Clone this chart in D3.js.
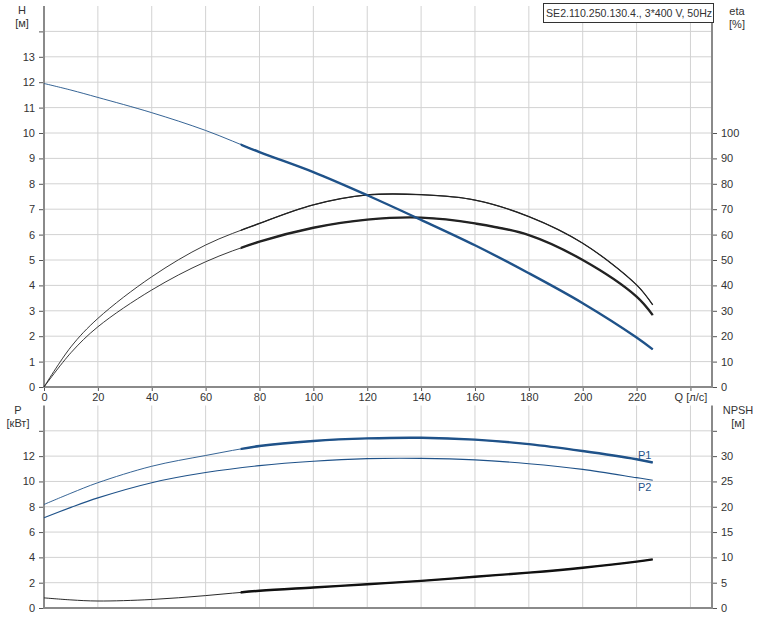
<!DOCTYPE html>
<html>
<head>
<meta charset="utf-8">
<script src="https://cdn.jsdelivr.net/npm/d3@7"></script>
<style>
body { margin: 0; background: #fff; }
text { font-family: "Liberation Sans", Arial, sans-serif; font-size: 11px; fill: #333; }
.grid line { stroke: #d2d2d2; stroke-width: 1; }
.frame { stroke: #8a8a8a; stroke-width: 2; fill: none; }
.tick line { stroke: #555; }
.domain { display: none; }
</style>
</head>
<body>
<div class="chart"></div>
<script>
const WIDTH = 761;
const HEIGHT = 624;
const LEFT = 44;
const RIGHT = 712;

const q        = [0, 10, 20, 40, 60, 80, 100, 120, 140, 160, 180, 200, 220, 226];
const head     = [11.95, 11.69, 11.4, 10.8, 10.1, 9.25, 8.46, 7.55, 6.58, 5.58, 4.48, 3.3, 1.95, 1.48];
const etaTotal = [0, 15.8, 27, 43.4, 55.9, 64.4, 71.7, 75.6, 75.7, 73.6, 67.1, 56.6, 40.2, 32.3];
const etaPump  = [0, 13.5, 23.7, 38.2, 49.3, 57.2, 62.7, 65.9, 66.7, 64.4, 59.8, 50, 35.6, 28.3];
const p1       = [8.18, 9.07, 9.9, 11.2, 12.05, 12.8, 13.2, 13.4, 13.45, 13.3, 12.95, 12.4, 11.75, 11.5];
const p2       = [7.13, 7.95, 8.7, 9.9, 10.7, 11.25, 11.6, 11.8, 11.82, 11.7, 11.4, 10.95, 10.3, 10.1];
const npsh     = [2.0, 1.6, 1.38, 1.68, 2.45, 3.4, 4.05, 4.7, 5.35, 6.18, 6.98, 7.95, 9.15, 9.6];
const dutyFrom = 73; // curves are drawn bold from this flow on

const qTicks = [0, 20, 40, 60, 80, 100, 120, 140, 160, 180, 200, 220, 240];
const hTicks = d3.range(0, 15);
const etaTicks = d3.range(0, 110, 10);
const pTicks = d3.range(0, 16, 2);
const npshTicks = d3.range(0, 40, 5);
const title = "SE2.110.250.130.4., 3*400 V, 50Hz";

const BLUE = "#1f5289";

var svg = d3.select('.chart').append('svg')
    .attr('width', WIDTH)
    .attr('height', HEIGHT);

var x = d3.scaleLinear().domain([0, 248]).range([LEFT, RIGHT]);
var yH = d3.scaleLinear().domain([0, 15]).range([387, 6]);
var yEta = d3.scaleLinear().domain([0, 150]).range([387, 6]);
var yP = d3.scaleLinear().domain([0, 16]).range([608, 405.5]);
var yN = d3.scaleLinear().domain([0, 40]).range([608, 405.5]);

var translate = function (a, b) {
    return "translate(" + a + "," + b + ")";
};

svg.append('clipPath').attr('id', 'duty')
    .append('rect')
    .attr('x', x(dutyFrom)).attr('y', 0)
    .attr('width', RIGHT - x(dutyFrom)).attr('height', HEIGHT);

var drawGrid = function (yScale, yValues, top, bottom) {
    var g = svg.append('g').attr('class', 'grid');
    g.selectAll('line.v').data(qTicks.slice(1)).enter().append('line')
        .attr('class', 'v')
        .attr('x1', x).attr('x2', x)
        .attr('y1', top).attr('y2', bottom);
    g.selectAll('line.h').data(yValues.slice(1)).enter().append('line')
        .attr('class', 'h')
        .attr('x1', LEFT).attr('x2', RIGHT)
        .attr('y1', yScale).attr('y2', yScale);
};

drawGrid(yH, hTicks, 6, 387);
drawGrid(yP, pTicks, 405.5, 608);

// axes
svg.append('g').attr('transform', translate(LEFT, 0))
    .call(d3.axisLeft(yH).tickValues(hTicks).tickSize(5).tickPadding(4)
        .tickFormat(d => d <= 13 ? d : ""));
svg.append('g').attr('transform', translate(RIGHT, 0))
    .call(d3.axisRight(yEta).tickValues(etaTicks).tickSize(5).tickPadding(4));
svg.append('g').attr('transform', translate(0, 387))
    .call(d3.axisBottom(x).tickValues(qTicks).tickSize(4).tickPadding(2)
        .tickFormat(d => d === 240 ? "Q [л/с]" : d));
svg.append('g').attr('transform', translate(LEFT, 0))
    .call(d3.axisLeft(yP).tickValues(pTicks).tickSize(5).tickPadding(4)
        .tickFormat(d => d <= 12 ? d : ""));
svg.append('g').attr('transform', translate(RIGHT, 0))
    .call(d3.axisRight(yN).tickValues(npshTicks).tickSize(5).tickPadding(4)
        .tickFormat(d => d <= 30 ? d : ""));

// frames
svg.append('path').attr('class', 'frame')
    .attr('d', "M" + LEFT + ",6V387H" + RIGHT + "V6");
svg.append('path').attr('class', 'frame')
    .attr('d', "M" + LEFT + ",405.5V608H" + RIGHT + "V405.5");

// curves: thin full curve, bold copy clipped to the duty range
var drawCurve = function (values, yScale, color, thin, thick) {
    var line = d3.line()
        .x((d, i) => x(q[i]))
        .y(d => yScale(d))
        .curve(d3.curveCatmullRom.alpha(0.5));
    svg.append('path')
        .attr('d', line(values))
        .attr('fill', 'none')
        .attr('stroke', color)
        .attr('stroke-width', thin);
    if (thick) {
        svg.append('path')
            .attr('d', line(values))
            .attr('clip-path', 'url(#duty)')
            .attr('fill', 'none')
            .attr('stroke', color)
            .attr('stroke-width', thick);
    }
};

drawCurve(etaTotal, yEta, "#222", 0.9, 1.3);
drawCurve(etaPump, yEta, "#222", 0.9, 2.4);
drawCurve(head, yH, BLUE, 0.9, 2.4);
drawCurve(p1, yP, BLUE, 0.9, 2.4);
drawCurve(p2, yP, BLUE, 1.1, null);
drawCurve(npsh, yN, "#111", 0.9, 2.4);

// curve labels
var qEnd = q[q.length - 1];
svg.append('text').attr('x', x(qEnd) - 8).attr('y', yP(p1[p1.length - 1]) - 3)
    .attr('text-anchor', 'middle').style('fill', BLUE).text("P1");
svg.append('text').attr('x', x(qEnd) - 8).attr('y', yP(p2[p2.length - 1]) + 11)
    .attr('text-anchor', 'middle').style('fill', BLUE).text("P2");

// axis titles
var label = function (tx, ty, lines) {
    lines.forEach(function (t, i) {
        svg.append('text').attr('x', tx).attr('y', ty + i * 13)
            .attr('text-anchor', 'middle').text(t);
    });
};
label(22, 14, ["H", "[м]"]);
label(737, 15, ["eta", "[%]"]);
label(18, 414, ["P", "[кВт]"]);
label(738, 414, ["NPSH", "[м]"]);

// title box
svg.append('rect').attr('x', 543.5).attr('y', 3.5).attr('width', 170).attr('height', 19)
    .attr('fill', '#fff').attr('stroke', '#333').attr('stroke-width', 1);
svg.append('text').attr('x', 546).attr('y', 17).style('font-size', '10.6px').text(title);
</script>
</body>
</html>
